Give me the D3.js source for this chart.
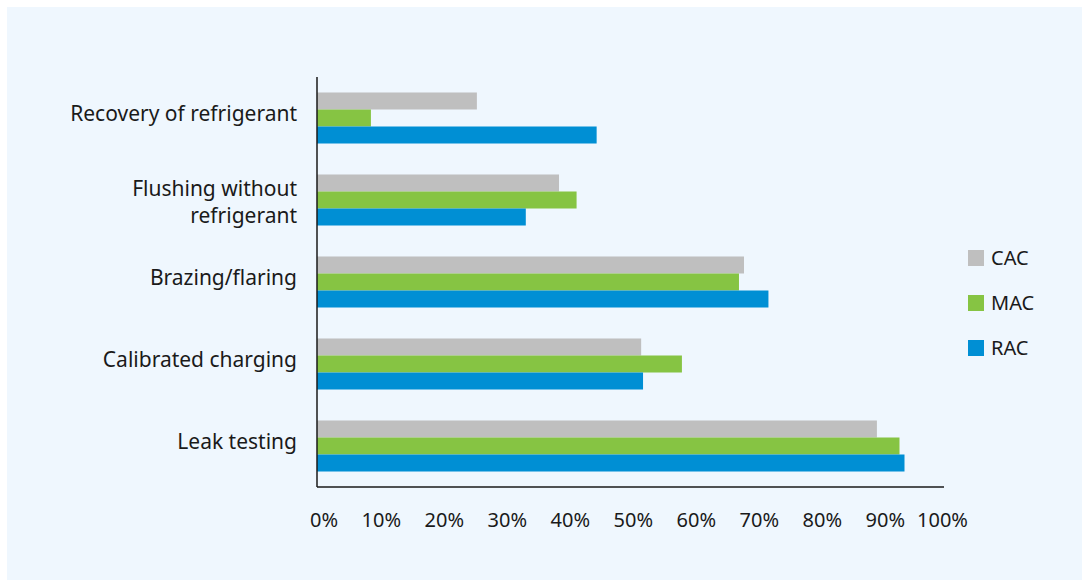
<!DOCTYPE html>
<html>
<head>
<meta charset="utf-8">
<script src="https://cdn.jsdelivr.net/npm/d3@7"></script>
<style>
  body { margin: 0; background: #fff; }
  svg { display: block; font-family: "Noto Sans", sans-serif; }
</style>
</head>
<body>
<div id="chart"></div>
<script>
// data (percent)
var categories = ["Recovery of refrigerant", "Flushing without refrigerant", "Brazing/flaring", "Calibrated charging", "Leak testing"];
var labelLines = [["Recovery of refrigerant"], ["Flushing without", "refrigerant"], ["Brazing/flaring"], ["Calibrated charging"], ["Leak testing"]];
var seriesNames = ["CAC", "MAC", "RAC"];
var cacValues = [25.5, 38.6, 68.1, 51.7, 89.3];
var macValues = [8.6, 41.4, 67.3, 58.2, 92.9];
var racValues = [44.6, 33.3, 72.0, 52.0, 93.7];
var tickValues = [0, 10, 20, 30, 40, 50, 60, 70, 80, 90, 100];

var colors = {CAC: "#bfbfbf", MAC: "#86c443", RAC: "#008fd4"};

var W = 1082, H = 580;
var margin = {top: 77, left: 317, right: 138, bottom: 93};

var svg = d3.select("#chart").append("svg")
    .attr("width", W)
    .attr("height", H);

// light blue panel
svg.append("rect")
    .attr("x", 7).attr("y", 7)
    .attr("width", W - 7).attr("height", H - 7)
    .attr("fill", "#eff7fe");

var x = d3.scaleLinear()
    .domain([0, 100])
    .range([margin.left, W - margin.right]);

var y = d3.scaleBand()
    .domain(categories)
    .range([margin.top, H - margin.bottom])
    .paddingInner(0.378)
    .paddingOuter(0.189);

var ySub = d3.scaleBand()
    .domain(seriesNames)
    .range([0, y.bandwidth()]);

var rows = categories.map(function (c, i) {
    return {cat: c, CAC: cacValues[i], MAC: macValues[i], RAC: racValues[i]};
});

var groups = svg.append("g").selectAll("g")
    .data(rows)
    .join("g")
    .attr("transform", function (d) { return "translate(0," + y(d.cat) + ")"; });

groups.selectAll("rect")
    .data(function (d) { return seriesNames.map(function (s) { return {s: s, v: d[s]}; }); })
    .join("rect")
    .attr("x", x(0))
    .attr("y", function (d) { return ySub(d.s); })
    .attr("width", function (d) { return x(d.v) - x(0); })
    .attr("height", ySub.bandwidth())
    .attr("fill", function (d) { return colors[d.s]; });

// axes lines
svg.append("line")
    .attr("x1", x(0)).attr("x2", x(0))
    .attr("y1", margin.top).attr("y2", H - margin.bottom)
    .attr("stroke", "#1a1a1a").attr("stroke-width", 1.5);
svg.append("line")
    .attr("x1", x(0)).attr("x2", x(100))
    .attr("y1", H - margin.bottom).attr("y2", H - margin.bottom)
    .attr("stroke", "#1a1a1a").attr("stroke-width", 1.5);

// x tick labels
svg.append("g").selectAll("text")
    .data(tickValues)
    .join("text")
    .attr("x", function (d) { return x(d) + 21 + d * 0.03; })
    .attr("y", 527)
    .attr("text-anchor", "end")
    .attr("font-size", 20)
    .attr("fill", "#1a1a1a")
    .text(function (d) { return d + "%"; });

// category labels
var lab = svg.append("g").selectAll("text")
    .data(categories)
    .join("text")
    .attr("text-anchor", "end")
    .attr("font-size", 21)
    .attr("fill", "#1a1a1a");

lab.each(function (c, i) {
    var lines = labelLines[i];
    var cy = y(c) + y.bandwidth() / 2;
    var lh = 27;
    var t = d3.select(this);
    var base = lines.length > 1 ? cy - (lines.length - 1) / 2 * lh + 9 : cy + 3;
    lines.forEach(function (ln, j) {
        t.append("tspan")
            .attr("x", 297)
            .attr("y", base + j * lh)
            .text(ln);
    });
});

// legend
var leg = svg.append("g").selectAll("g")
    .data(seriesNames)
    .join("g")
    .attr("transform", function (d, i) { return "translate(968," + (250 + i * 45) + ")"; });
leg.append("rect")
    .attr("width", 16).attr("height", 16)
    .attr("fill", function (d) { return colors[d]; });
leg.append("text")
    .attr("x", 23).attr("y", 15)
    .attr("font-size", 20)
    .attr("fill", "#1a1a1a")
    .text(function (d) { return d; });
</script>
</body>
</html>
